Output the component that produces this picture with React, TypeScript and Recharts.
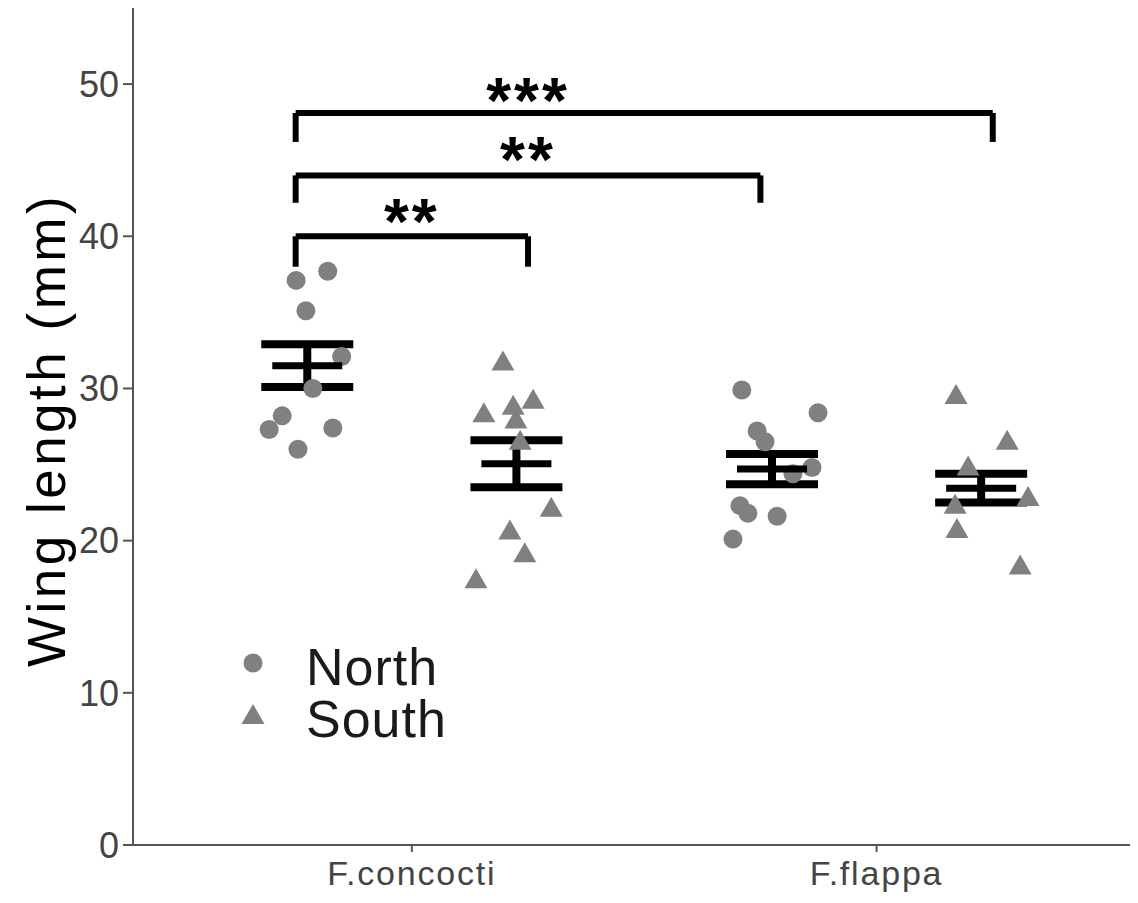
import React from 'react';
import {
  ScatterChart,
  Scatter,
  XAxis,
  YAxis,
  ErrorBar,
  ReferenceLine,
} from 'recharts';

// categories and axis ticks
const species = ['F.concocti', 'F.flappa'];
const yTicks = [0, 10, 20, 30, 40, 50];

// raw jittered observations (x in category units, y in mm)
const northPoints = [
  { x: 0.751, y: 37.1 }, { x: 0.819, y: 37.7 }, { x: 0.772, y: 35.1 },
  { x: 0.849, y: 32.1 }, { x: 0.787, y: 30.0 }, { x: 0.721, y: 28.2 },
  { x: 0.693, y: 27.3 }, { x: 0.83, y: 27.4 }, { x: 0.755, y: 26.0 },
  { x: 1.71, y: 29.9 }, { x: 1.874, y: 28.4 }, { x: 1.743, y: 27.2 },
  { x: 1.76, y: 26.5 }, { x: 1.861, y: 24.8 }, { x: 1.82, y: 24.4 },
  { x: 1.706, y: 22.3 }, { x: 1.723, y: 21.8 }, { x: 1.786, y: 21.6 },
  { x: 1.691, y: 20.1 },
];

const southPoints = [
  { x: 1.196, y: 31.7 }, { x: 1.261, y: 29.2 }, { x: 1.155, y: 28.3 },
  { x: 1.218, y: 28.8 }, { x: 1.224, y: 27.9 }, { x: 1.233, y: 26.5 },
  { x: 1.3, y: 22.1 }, { x: 1.211, y: 20.6 }, { x: 1.243, y: 19.1 },
  { x: 1.138, y: 17.4 },
  { x: 2.171, y: 29.5 }, { x: 2.281, y: 26.5 }, { x: 2.197, y: 24.8 },
  { x: 2.326, y: 22.8 }, { x: 2.169, y: 22.3 }, { x: 2.173, y: 20.7 },
  { x: 2.309, y: 18.3 },
];

// mean +/- SE per species
const northMean = [31.5, 24.7];
const northSE = [1.4, 1.0];
const southMean = [25.05, 23.45];
const southSE = [1.55, 0.95];

// significance brackets
const bracketLeft = [0.75, 0.75, 0.75];
const bracketRight = [1.25, 1.75, 2.25];
const bracketTop = [40.0, 44.0, 48.1];
const bracketTip = [38.0, 42.2, 46.2];
const starX = [1.0, 1.25, 1.25];
const starY = [41.7, 45.8, 49.7];
const starLabels = ['**', '**', '***'];

const DODGE = 0.225;
const FONT = '"Liberation Sans", Arial, Helvetica, sans-serif';
const POINT = '#808080';

const meanRows = species.flatMap((s, i) => [
  { x: i + 1 - DODGE, y: northMean[i], se: northSE[i] },
  { x: i + 1 + DODGE, y: southMean[i], se: southSE[i] },
]);

const starRows = starLabels.map((label, i) => ({ x: starX[i], y: starY[i], label }));

const Circle = (props: any) => <circle cx={props.cx} cy={props.cy} r={9.5} fill={POINT} />;

const Triangle = (props: any) => {
  const { cx, cy } = props;
  return <polygon points={`${cx},${cy - 12} ${cx + 11.5},${cy + 8} ${cx - 11.5},${cy + 8}`} fill={POINT} />;
};

const MeanTick = (props: any) => (
  <line x1={props.cx - 35} x2={props.cx + 35} y1={props.cy} y2={props.cy} stroke="#000" strokeWidth={7} />
);

const Stars = (props: any) => (
  <text
    x={props.cx}
    y={props.cy + 34}
    textAnchor="middle"
    fontFamily={FONT}
    fontWeight="bold"
    fontSize={64}
    letterSpacing={3}
    fill="#000"
  >
    {props.payload.label}
  </text>
);

// legend drawn as a small svg on top of the plot, inside the panel
const LegendBox = () => (
  <svg width={280} height={130} style={{ position: 'absolute', left: 230, top: 630 }}>
    <circle cx={23} cy={33} r={9.5} fill={POINT} />
    <polygon points="23,74 34.5,94 11.5,94" fill={POINT} />
    <text x={76} y={55} fontFamily={FONT} fontSize={52} letterSpacing={1} fill="#1a1a1a">North</text>
    <text x={76} y={107} fontFamily={FONT} fontSize={52} letterSpacing={1} fill="#1a1a1a">South</text>
  </svg>
);

const YLabel = () => (
  <text
    x={65}
    y={430}
    transform="rotate(-90, 65, 430)"
    textAnchor="middle"
    fontFamily={FONT}
    fontSize={53}
    letterSpacing={3.5}
    fill="#000"
  >
    Wing length (mm)
  </text>
);

export default function App() {
  return (
    <div style={{ margin: -8, width: 1138, height: 903, background: '#fff', overflow: 'hidden', position: 'relative' }}>
      <ScatterChart width={1138} height={903} margin={{ top: 8, right: 0, bottom: 0, left: 0 }}>
        <XAxis
          type="number"
          dataKey="x"
          domain={[0.4, 2.5625]}
          ticks={[1, 2]}
          tickFormatter={(v: number) => species[v - 1]}
          height={58}
          allowDataOverflow
          stroke="#555"
          strokeWidth={2}
          tickSize={7}
          tickMargin={9}
          tick={{ fill: '#444', fontSize: 34, fontFamily: FONT, letterSpacing: 1.8 }}
        />
        <YAxis
          type="number"
          dataKey="y"
          domain={[0, 55]}
          ticks={yTicks}
          width={133}
          allowDataOverflow
          stroke="#555"
          strokeWidth={2}
          tickSize={10}
          tickMargin={4}
          tick={{ fill: '#444', fontSize: 36, fontFamily: FONT }}
          label={{ content: () => <YLabel /> }}
        />
        <Scatter name="North" data={northPoints} shape={<Circle />} isAnimationActive={false} />
        <Scatter name="South" data={southPoints} shape={<Triangle />} isAnimationActive={false} />
        <Scatter name="mean" data={meanRows} shape={<MeanTick />} isAnimationActive={false} legendType="none">
          <ErrorBar dataKey="se" direction="y" width={46} strokeWidth={8} stroke="#000" isAnimationActive={false} />
        </Scatter>
        {bracketTop.map((top, i) => (
          <ReferenceLine
            key={`b${i}`}
            segment={[{ x: bracketLeft[i], y: top }, { x: bracketRight[i], y: top }]}
            stroke="#000"
            strokeWidth={6}
          />
        ))}
        {bracketTop.map((top, i) => (
          <ReferenceLine
            key={`l${i}`}
            segment={[{ x: bracketLeft[i], y: bracketTip[i] }, { x: bracketLeft[i], y: top }]}
            stroke="#000"
            strokeWidth={6}
          />
        ))}
        {bracketTop.map((top, i) => (
          <ReferenceLine
            key={`r${i}`}
            segment={[{ x: bracketRight[i], y: bracketTip[i] }, { x: bracketRight[i], y: top }]}
            stroke="#000"
            strokeWidth={6}
          />
        ))}
        <Scatter name="stars" data={starRows} shape={<Stars />} isAnimationActive={false} legendType="none" />
      </ScatterChart>
      <LegendBox />
    </div>
  );
}
